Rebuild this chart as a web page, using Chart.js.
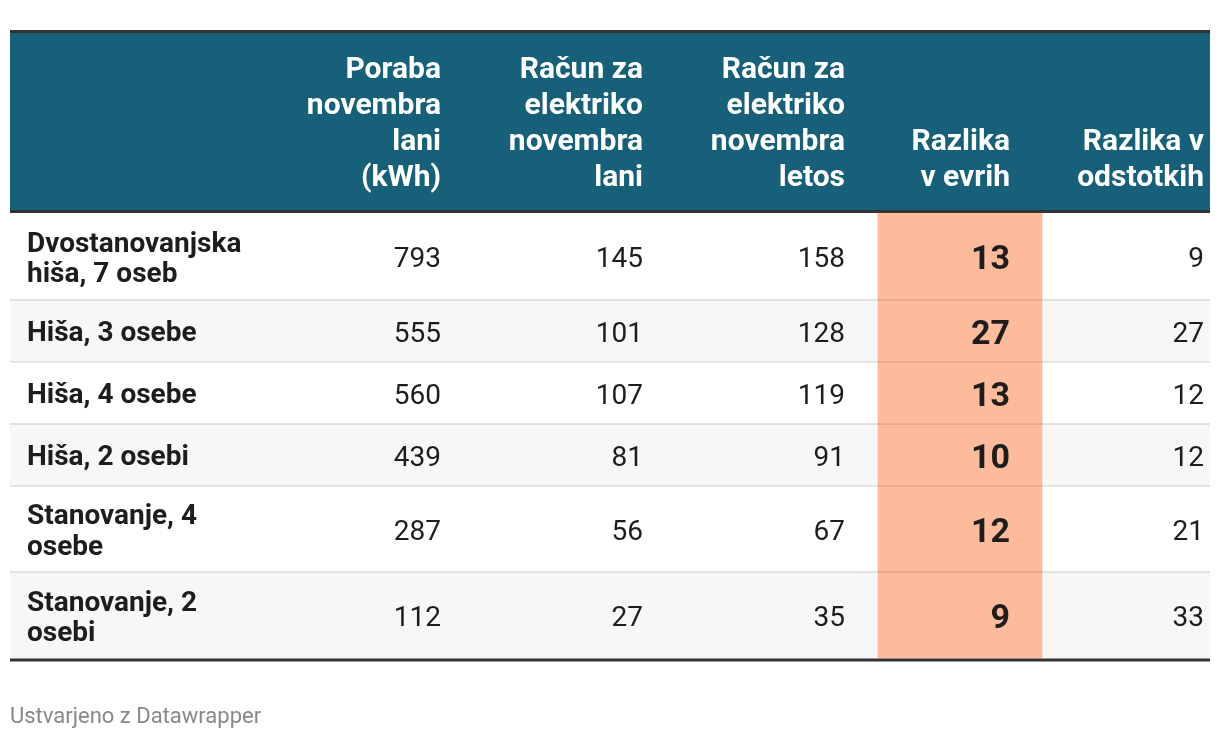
<!DOCTYPE html>
<html lang="sl">
<head>
<meta charset="utf-8">
<title>Poraba elektrike</title>
<script src="https://cdn.jsdelivr.net/npm/chart.js@4.4.1/dist/chart.umd.min.js"></script>
<style>
    html, body { margin: 0; padding: 0; background: #ffffff; }
    #wrap { width: 1220px; height: 738px; }
</style>
</head>
<body>
<div id="wrap"><canvas id="tableChart" width="1220" height="738"></canvas></div>
<script>
// row categories (already broken into lines like in the original)
const rowLabels = [
    ['Dvostanovanjska', 'hiša, 7 oseb'],
    ['Hiša, 3 osebe'],
    ['Hiša, 4 osebe'],
    ['Hiša, 2 osebi'],
    ['Stanovanje, 4', 'osebe'],
    ['Stanovanje, 2', 'osebi']
];

const columnHeaders = [
    ['Poraba', 'novembra', 'lani', '(kWh)'],
    ['Račun za', 'elektriko', 'novembra', 'lani'],
    ['Račun za', 'elektriko', 'novembra', 'letos'],
    ['Razlika', 'v evrih'],
    ['Razlika v', 'odstotkih']
];

const porabaLani = [793, 555, 560, 439, 287, 112];
const racunLani = [145, 101, 107, 81, 56, 27];
const racunLetos = [158, 128, 119, 91, 67, 35];
const razlikaEvri = [13, 27, 13, 10, 12, 9];
const razlikaOdstotki = [9, 27, 12, 12, 21, 33];

const columns = [porabaLani, racunLani, racunLetos, razlikaEvri, razlikaOdstotki];

// layout (table units, x scale runs 0..1200 across the table)
const labelX = 17;
const colRight = [431, 633, 835, 1000, 1194];
const highlightCol = 3;
const highlightCenter = 950;
const highlightWidth = 164;
const tableWidth = 1200;
const labelLineHeight = 30.5;

function rowHeight(label) {
    return label.length > 1 ? 86.5 : 62;
}

const rowTops = [];
let acc = 0;
rowLabels.forEach(l => {
    rowTops.push(acc);
    acc += rowHeight(l);
});
const totalHeight = acc;

const rowSpan = i => [rowTops[i], rowTops[i] + rowHeight(rowLabels[i])];
const rowCenter = i => rowTops[i] + rowHeight(rowLabels[i]) / 2;

const tablePlugin = {
    id: 'tablePlugin',
    afterDatasetsDraw(chart) {
        const ctx = chart.ctx;
        const xs = chart.scales.x;
        const ys = chart.scales.y;
        const area = chart.chartArea;
        const left = xs.getPixelForValue(0);
        const right = xs.getPixelForValue(tableWidth);

        ctx.save();

        // row separators
        ctx.fillStyle = 'rgba(0,0,0,0.09)';
        for (let i = 1; i < rowLabels.length; i++) {
            const y = Math.round(ys.getPixelForValue(rowTops[i]));
            ctx.fillRect(left, y - 1, right - left, 2);
        }

        // header block
        const headTop = area.top - 183;
        ctx.fillStyle = '#333333';
        ctx.fillRect(left, headTop, right - left, 3);
        ctx.fillStyle = '#17607a';
        ctx.fillRect(left, headTop + 3, right - left, 177);
        ctx.fillStyle = '#333333';
        ctx.fillRect(left, area.top - 3, right - left, 3);
        ctx.fillRect(left, area.bottom, right - left, 3);

        ctx.fillStyle = '#ffffff';
        ctx.font = 'bold 30px Roboto';
        ctx.textAlign = 'right';
        ctx.textBaseline = 'alphabetic';
        columnHeaders.forEach((lines, c) => {
            const x = xs.getPixelForValue(colRight[c]);
            lines.forEach((t, k) => {
                const y = area.top - 27 - (lines.length - 1 - k) * 36;
                ctx.fillText(t, x, y);
            });
        });

        // body
        ctx.fillStyle = '#1d1d1d';
        rowLabels.forEach((lines, i) => {
            const cy = ys.getPixelForValue(rowCenter(i));
            ctx.font = 'bold 28px Roboto';
            ctx.textAlign = 'left';
            lines.forEach((t, k) => {
                const y = cy + 10.5 - (lines.length - 1) * labelLineHeight / 2 + k * labelLineHeight;
                ctx.fillText(t, xs.getPixelForValue(labelX), y);
            });
            ctx.textAlign = 'right';
            columns.forEach((vals, c) => {
                const x = xs.getPixelForValue(colRight[c]);
                if (c === highlightCol) {
                    ctx.font = 'bold 34px Roboto';
                    ctx.fillText(String(vals[i]), x, cy + 13);
                } else {
                    ctx.font = '28px Roboto';
                    ctx.fillText(String(vals[i]), x, cy + 11);
                }
            });
        });

        // footer
        ctx.fillStyle = '#888888';
        ctx.font = '22px Roboto';
        ctx.textAlign = 'left';
        ctx.fillText('Ustvarjeno z Datawrapper', left, 723);

        ctx.restore();
    }
};

function drawTable() {
    const ctx = document.getElementById('tableChart').getContext('2d');

    const stripes = rowLabels
        .map((l, i) => i % 2 === 1 ? { x: tableWidth / 2, y: rowSpan(i) } : null)
        .filter(d => d !== null);
    const highlight = razlikaEvri.map((v, i) => ({ x: highlightCenter, y: rowSpan(i) }));

    new Chart(ctx, {
        type: 'bar',
        data: {
            datasets: [{
                label: 'Razlika v evrih',
                data: highlight,
                backgroundColor: '#febb9b',
                barThickness: highlightWidth,
                borderWidth: 0,
                order: 0
            }, {
                label: 'stripes',
                data: stripes,
                backgroundColor: '#f7f7f7',
                barThickness: tableWidth,
                borderWidth: 0,
                order: 1
            }]
        },
        options: {
            responsive: false,
            animation: false,
            layout: {
                padding: { top: 213, bottom: 79.5, left: 10, right: 10 }
            },
            scales: {
                x: { type: 'linear', min: 0, max: tableWidth, offset: false, stacked: true, display: false },
                y: { type: 'linear', min: 0, max: totalHeight, reverse: true, display: false }
            },
            plugins: {
                legend: { display: false },
                tooltip: { enabled: false }
            }
        },
        plugins: [tablePlugin]
    });
}

document.addEventListener('DOMContentLoaded', () => {
    drawTable();
});
</script>
</body>
</html>
